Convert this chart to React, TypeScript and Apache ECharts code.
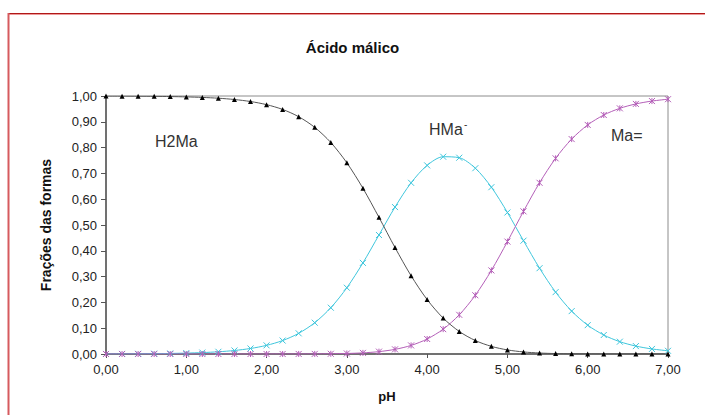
import React, { useEffect, useRef } from "react";
import * as echarts from "echarts";

const pH = [0, 0.2, 0.4, 0.6, 0.8, 1.0, 1.2, 1.4, 1.6, 1.8, 2.0, 2.2, 2.4, 2.6, 2.8, 3.0, 3.2, 3.4, 3.6, 3.8, 4.0, 4.2, 4.4, 4.6, 4.8, 5.0, 5.2, 5.4, 5.6, 5.8, 6.0, 6.2, 6.4, 6.6, 6.8, 7.0];
const h2ma = [0.9997, 0.9995, 0.9991, 0.9986, 0.9978, 0.9965, 0.9945, 0.9914, 0.9864, 0.9786, 0.9665, 0.9479, 0.9197, 0.8784, 0.8198, 0.741, 0.6425, 0.5296, 0.4125, 0.3033, 0.2109, 0.1391, 0.0874, 0.0522, 0.0296, 0.0158, 0.008, 0.0038, 0.0017, 0.0008, 0.0003, 0.0001, 0.0001, 0.0, 0.0, 0.0];
const hma = [0.0003, 0.0005, 0.0009, 0.0014, 0.0022, 0.0035, 0.0055, 0.0086, 0.0136, 0.0214, 0.0335, 0.0521, 0.0801, 0.1213, 0.1794, 0.2569, 0.3531, 0.4612, 0.5695, 0.6635, 0.7311, 0.7646, 0.7608, 0.7201, 0.6465, 0.5485, 0.4392, 0.3326, 0.2398, 0.1662, 0.1118, 0.0736, 0.0477, 0.0307, 0.0196, 0.0124];
const ma = [0, 0, 0, 0, 0, 0, 0, 0, 0, 0, 0.0, 0.0001, 0.0002, 0.0004, 0.0009, 0.002, 0.0044, 0.0092, 0.018, 0.0333, 0.0581, 0.0963, 0.1518, 0.2277, 0.324, 0.4357, 0.5529, 0.6636, 0.7584, 0.833, 0.8879, 0.9263, 0.9522, 0.9693, 0.9804, 0.9876];

const title = "Ácido málico";
const xName = "pH";
const yName = "Frações das formas";

const pair = (ys: number[]) => pH.map((x, i) => [x, ys[i]]);
const fmt = (v: number) => v.toFixed(2).replace(".", ",");

export default function App() {
  const ref = useRef<HTMLDivElement>(null);
  useEffect(() => {
    document.body.style.margin = "0";
    const chart = echarts.init(ref.current!, undefined, { renderer: "svg" });
    const font = "Arial, 'Liberation Sans', sans-serif";
    chart.setOption({
      animation: false,
      backgroundColor: "#ffffff",
      title: {
        text: title,
        left: "center",
        top: 35,
        textStyle: { fontFamily: font, fontSize: 15, fontWeight: "bold", color: "#111" },
      },
      grid: {
        left: 106,
        right: 37,
        top: 96,
        bottom: 61,
        show: true,
        borderColor: "#8c8c8c",
        borderWidth: 1,
        backgroundColor: "transparent",
      },
      xAxis: {
        type: "value",
        min: 0,
        max: 7,
        interval: 1,
        name: xName,
        nameLocation: "middle",
        nameGap: 36,
        nameTextStyle: { fontFamily: font, fontSize: 13, fontWeight: "bold", color: "#111" },
        axisLine: { show: true, lineStyle: { color: "#555", width: 1.5 } },
        axisTick: { show: true, length: 4, lineStyle: { color: "#555" } },
        splitLine: { show: false },
        axisLabel: { formatter: fmt, fontFamily: font, fontSize: 13, color: "#222", margin: 9 },
      },
      yAxis: {
        type: "value",
        min: 0,
        max: 1,
        interval: 0.1,
        name: yName,
        nameLocation: "middle",
        nameGap: 53,
        nameTextStyle: { fontFamily: font, fontSize: 14, fontWeight: "bold", color: "#111" },
        axisLine: { show: true, lineStyle: { color: "#555", width: 1.5 } },
        axisTick: { show: true, length: 5, lineStyle: { color: "#555" } },
        splitLine: { show: false },
        axisLabel: { formatter: fmt, fontFamily: font, fontSize: 13, color: "#222", margin: 9 },
      },
      series: [
        {
          type: "line",
          data: pair(h2ma),
          smooth: 0.3,
          symbol: "triangle",
          symbolSize: 5,
          lineStyle: { color: "#555555", width: 1 },
          itemStyle: { color: "#000000" },
          z: 3,
        },
        {
          type: "line",
          data: pair(hma),
          smooth: 0.3,
          symbol: "path://M0 0L10 10M10 0L0 10",
          symbolSize: 6,
          lineStyle: { color: "#3fc6dc", width: 1 },
          itemStyle: { color: "#3fc6dc", borderColor: "#3fc6dc", borderWidth: 1 },
          z: 2,
        },
        {
          type: "line",
          data: pair(ma),
          smooth: 0.3,
          symbol: "path://M0 0L10 10M10 0L0 10M5 0L5 10",
          symbolSize: 6,
          lineStyle: { color: "#b45fb8", width: 1 },
          itemStyle: { color: "#b45fb8", borderColor: "#b45fb8", borderWidth: 1 },
          z: 2,
        },
      ],
      graphic: [
        { type: "line", shape: { x1: 8.5, y1: 13.5, x2: 705, y2: 13.5 }, style: { stroke: "#b01818", lineWidth: 1 } },
        { type: "line", shape: { x1: 9, y1: 14.5, x2: 705, y2: 14.5 }, style: { stroke: "#ee9a9a", lineWidth: 1 } },
        { type: "line", shape: { x1: 8.5, y1: 13, x2: 8.5, y2: 415 }, style: { stroke: "#d65a5e", lineWidth: 2 } },
        { type: "text", left: 155, top: 133, style: { text: "H2Ma", fontFamily: font, fontSize: 16, fill: "#333" } },
        { type: "text", left: 429, top: 121, style: { text: "HMa", fontFamily: font, fontSize: 16, fill: "#333" } },
        { type: "text", left: 464, top: 119, style: { text: "-", fontFamily: font, fontSize: 10, fill: "#333" } },
        { type: "text", left: 611, top: 127, style: { text: "Ma=", fontFamily: font, fontSize: 16, fill: "#333" } },
      ],
    });
    return () => chart.dispose();
  }, []);
  return <div ref={ref} style={{ width: 705, height: 415 }} />;
}
